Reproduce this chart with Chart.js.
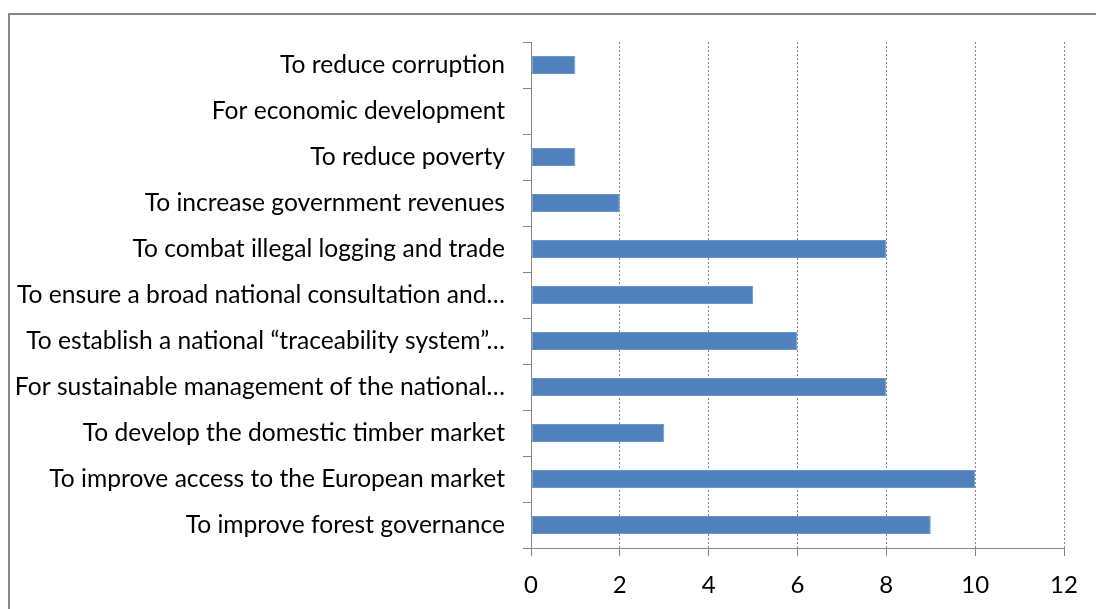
<!DOCTYPE html>
<html>
<head>
<meta charset="utf-8">
<script src="https://cdn.jsdelivr.net/npm/chart.js@4.4.1/dist/chart.umd.min.js"></script>
<style>
  html, body { margin: 0; padding: 0; background: #ffffff; }
  canvas { display: block; }
</style>
</head>
<body>
<canvas id="c" width="1096" height="609"></canvas>
<script>
const categories = [
  "To reduce corruption",
  "For economic development",
  "To reduce poverty",
  "To increase government revenues",
  "To combat illegal logging and trade",
  "To ensure a broad national consultation and…",
  "To establish a national “traceability system”…",
  "For sustainable management of the national…",
  "To develop the domestic timber market",
  "To improve access to the European market",
  "To improve forest governance"
];
const values = [1, 0, 1, 2, 8, 5, 6, 8, 3, 10, 9];
const xMin = 0, xMax = 12, xStep = 2;

const axisGray = '#868686';
const yFont = { family: 'Lato', size: 24.6 };
const xFont = { family: 'Lato', size: 24 };

const framePlugin = {
  id: 'frame',
  beforeDraw(chart) {
    const ctx = chart.ctx;
    ctx.save();
    ctx.fillStyle = '#ffffff';
    ctx.fillRect(0, 0, chart.width, chart.height);
    ctx.strokeStyle = '#878787';
    ctx.lineWidth = 2;
    ctx.beginPath();
    ctx.moveTo(9, chart.height);
    ctx.lineTo(9, 14);
    ctx.lineTo(chart.width, 14);
    ctx.stroke();
    ctx.restore();
  }
};

new Chart(document.getElementById('c'), {
  type: 'bar',
  data: {
    labels: categories,
    datasets: [{
      data: values,
      backgroundColor: '#4F81BD',
      borderColor: '#6b97cc',
      borderWidth: 1,
      borderSkipped: false,
      barPercentage: 0.39,
      categoryPercentage: 1.0
    }]
  },
  options: {
    indexAxis: 'y',
    responsive: false,
    animation: false,
    layout: { padding: { top: 42, right: 32, bottom: 0, left: 0 } },
    plugins: {
      legend: { display: false },
      tooltip: { enabled: false }
    },
    scales: {
      x: {
        min: xMin,
        max: xMax,
        ticks: { stepSize: xStep, color: '#000000', font: xFont, padding: 15, maxRotation: 0 },
        grid: {
          color: axisGray,
          lineWidth: 1,
          tickLength: 8,
          tickColor: axisGray,
          tickBorderDash: [],
          drawTicks: true
        },
        border: { display: true, color: axisGray, width: 1, dash: [2, 2] },
        afterFit(scale) { scale.height = 61; }
      },
      y: {
        ticks: { color: '#000000', font: yFont, padding: 18, autoSkip: false },
        grid: {
          offset: true,
          drawOnChartArea: false,
          drawTicks: true,
          tickLength: 8,
          tickColor: axisGray,
          color: axisGray
        },
        border: { display: true, color: axisGray, width: 1 },
        afterFit(scale) { scale.width = 531; }
      }
    }
  },
  plugins: [framePlugin]
});
</script>
</body>
</html>
